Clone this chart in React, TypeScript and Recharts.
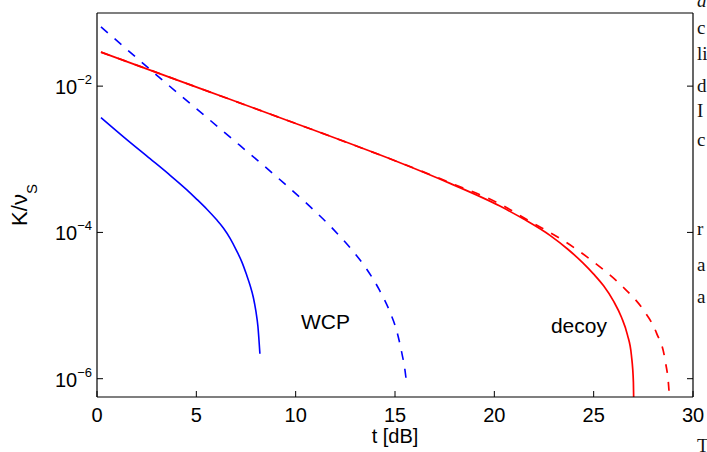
import React from 'react';
import { LineChart, Line, XAxis, YAxis, ReferenceDot, Customized } from 'recharts';

// ---------- data (t in dB, K/nu_S) ----------
const xTicks = [0, 5, 10, 15, 20, 25, 30];
const yTicks = [1e-6, 1e-4, 1e-2];
const xDomain = [0, 30];
const yDomain = [5.62e-7, 1e-1];

// WCP, solid blue
const wcpSolid = [
  { t: 0.2, k: 3.72e-3 },
  { t: 1.5, k: 1.86e-3 },
  { t: 2.67, k: 1.02e-3 },
  { t: 3.6, k: 6.31e-4 },
  { t: 4.51, k: 3.85e-4 },
  { t: 5.0, k: 2.88e-4 },
  { t: 5.52, k: 2.09e-4 },
  { t: 6.0, k: 1.51e-4 },
  { t: 6.36, k: 1.15e-4 },
  { t: 6.7, k: 8.3e-5 },
  { t: 7.03, k: 5.6e-5 },
  { t: 7.3, k: 3.9e-5 },
  { t: 7.53, k: 2.63e-5 },
  { t: 7.7, k: 1.91e-5 },
  { t: 7.87, k: 1.29e-5 },
  { t: 8.0, k: 8.3e-6 },
  { t: 8.1, k: 5.2e-6 },
  { t: 8.2, k: 2.19e-6 },
];

// WCP, dashed blue
const wcpDashed = [
  { t: 0.2, k: 6.46e-2 },
  { t: 3.09, k: 1.35e-2 },
  { t: 6.36, k: 2.4e-3 },
  { t: 9.38, k: 4.79e-4 },
  { t: 10.7, k: 2.29e-4 },
  { t: 11.9, k: 1.1e-4 },
  { t: 12.8, k: 5.89e-5 },
  { t: 13.57, k: 3.16e-5 },
  { t: 14.2, k: 1.66e-5 },
  { t: 14.75, k: 8.13e-6 },
  { t: 15.1, k: 4.37e-6 },
  { t: 15.33, k: 2.34e-6 },
  { t: 15.5, k: 1.32e-6 },
  { t: 15.6, k: 7.9e-7 },
];

// decoy, solid red
const decoySolid = [
  { t: 0.2, k: 2.92e-2 },
  { t: 5.18, k: 9.33e-3 },
  { t: 10.0, k: 3.09e-3 },
  { t: 12.73, k: 1.64e-3 },
  { t: 15.0, k: 9.55e-4 },
  { t: 17.77, k: 4.68e-4 },
  { t: 20.28, k: 2.29e-4 },
  { t: 21.5, k: 1.51e-4 },
  { t: 22.8, k: 9.12e-5 },
  { t: 23.7, k: 5.89e-5 },
  { t: 24.47, k: 3.8e-5 },
  { t: 25.0, k: 2.69e-5 },
  { t: 25.5, k: 1.86e-5 },
  { t: 26.0, k: 1.15e-5 },
  { t: 26.4, k: 6.92e-6 },
  { t: 26.7, k: 3.98e-6 },
  { t: 26.9, k: 2.09e-6 },
  { t: 27.0, k: 8.9e-7 },
  { t: 27.06, k: 1e-7 },
];

// decoy, dashed red
const decoyDashed = [
  { t: 0.2, k: 2.92e-2 },
  { t: 5.18, k: 9.33e-3 },
  { t: 10.0, k: 3.09e-3 },
  { t: 12.73, k: 1.64e-3 },
  { t: 15.0, k: 9.55e-4 },
  { t: 17.77, k: 4.79e-4 },
  { t: 20.28, k: 2.45e-4 },
  { t: 21.8, k: 1.41e-4 },
  { t: 23.47, k: 7.76e-5 },
  { t: 24.98, k: 3.98e-5 },
  { t: 26.49, k: 1.78e-5 },
  { t: 27.5, k: 8.71e-6 },
  { t: 28.17, k: 4.17e-6 },
  { t: 28.59, k: 1.82e-6 },
  { t: 28.8, k: 6.3e-7 },
  { t: 28.88, k: 1e-7 },
];

const annotations = [
  { label: 'WCP', t: 11.5, k: 6.0e-6 },
  { label: 'decoy', t: 24.26, k: 5.4e-6 },
];

// cut-off letters of the surrounding page text at the right edge
const pageLetters = [
  { s: 'a', y: 7, italic: true },
  { s: 'c', y: 34 },
  { s: 'li', y: 60 },
  { s: 'd', y: 92 },
  { s: 'I', y: 117 },
  { s: 'c', y: 146 },
  { s: 'r', y: 235 },
  { s: 'a', y: 271 },
  { s: 'a', y: 303 },
  { s: 'T', y: 452 },
];

const FONT = '"Liberation Sans", Arial, Helvetica, sans-serif';
const TICK = 6;

const BottomTick = (p: any) => {
  const { x, y, payload } = p;
  return (
    <g>
      <line x1={x} y1={y} x2={x} y2={y - TICK} stroke="#000" strokeWidth={1} />
      <text x={x} y={y + 25} textAnchor="middle" fontSize={20} fontFamily={FONT} fill="#000">
        {payload.value}
      </text>
    </g>
  );
};

const TopTick = (p: any) => {
  const { x, y } = p;
  return <line x1={x} y1={y} x2={x} y2={y + TICK} stroke="#000" strokeWidth={1} />;
};

const LeftTick = (p: any) => {
  const { x, y, payload } = p;
  const exp = Math.round(Math.log10(payload.value));
  return (
    <g>
      <line x1={x} y1={y} x2={x + TICK} y2={y} stroke="#000" strokeWidth={1} />
      <text x={x - 5} y={y + 8} textAnchor="end" fontSize={20} fontFamily={FONT} fill="#000">
        10
        <tspan dy={-10} fontSize={13}>{'\u2212' + Math.abs(exp)}</tspan>
      </text>
    </g>
  );
};

const RightTick = (p: any) => {
  const { x, y } = p;
  return <line x1={x} y1={y} x2={x - TICK} y2={y} stroke="#000" strokeWidth={1} />;
};

const XLabel = (p: any) => {
  const vb = p.viewBox;
  return (
    <text x={vb.x + vb.width / 2} y={vb.y + 46} textAnchor="middle" fontSize={20} fontFamily={FONT} fill="#000">
      t [dB]
    </text>
  );
};

const YLabel = (p: any) => {
  const vb = p.viewBox;
  const cx = 27;
  const cy = vb.y + vb.height / 2;
  return (
    <text
      x={cx}
      y={cy}
      transform={`rotate(-90 ${cx} ${cy})`}
      textAnchor="middle"
      fontSize={22}
      fontFamily={FONT}
      fill="#000"
    >
      K/{'\u03bd'}
      <tspan dy={10} fontSize={15}>S</tspan>
    </text>
  );
};

const PageText = () => (
  <g>
    {pageLetters.map((l, i) => (
      <text
        key={i}
        x={697}
        y={l.y}
        fontSize={19}
        fontFamily='"Liberation Serif", "DejaVu Serif", serif'
        fontStyle={l.italic ? 'italic' : 'normal'}
        fill="#111"
      >
        {l.s}
      </text>
    ))}
  </g>
);

export default function App() {
  return (
    <div style={{ width: 707, height: 452, position: 'fixed', left: 0, top: 0, background: '#fff' }}>
      <LineChart width={707} height={452} margin={{ top: 12, right: 13, bottom: 25, left: 0 }}>
        <XAxis
          dataKey="t"
          type="number"
          domain={xDomain}
          ticks={xTicks}
          interval={0}
          allowDataOverflow
          height={30}
          tickSize={0}
          tickMargin={0}
          tickLine={false}
          tick={<BottomTick />}
          axisLine={{ stroke: '#000', strokeWidth: 1.2 }}
          label={<XLabel />}
        />
        <XAxis
          xAxisId="top"
          orientation="top"
          type="number"
          domain={xDomain}
          ticks={xTicks}
          interval={0}
          allowDataOverflow
          height={1}
          tickSize={0}
          tickMargin={0}
          tickLine={false}
          tick={<TopTick />}
          axisLine={{ stroke: '#000', strokeWidth: 1.2 }}
        />
        <YAxis
          dataKey="k"
          type="number"
          scale="log"
          domain={yDomain}
          ticks={yTicks}
          interval={0}
          allowDataOverflow
          width={97}
          tickSize={0}
          tickMargin={0}
          tickLine={false}
          tick={<LeftTick />}
          axisLine={{ stroke: '#000', strokeWidth: 1.2 }}
          label={<YLabel />}
        />
        <YAxis
          yAxisId="right"
          orientation="right"
          type="number"
          scale="log"
          domain={yDomain}
          ticks={yTicks}
          interval={0}
          allowDataOverflow
          width={1}
          tickSize={0}
          tickMargin={0}
          tickLine={false}
          tick={<RightTick />}
          axisLine={{ stroke: '#000', strokeWidth: 1.2 }}
        />
        <Line data={wcpSolid} dataKey="k" type="monotone" stroke="#0000ff" strokeWidth={1.6} dot={false} isAnimationActive={false} />
        <Line data={wcpDashed} dataKey="k" type="monotone" stroke="#0000ff" strokeWidth={1.6} strokeDasharray="9 9" dot={false} isAnimationActive={false} />
        <Line data={decoyDashed} dataKey="k" type="monotone" stroke="#ff0000" strokeWidth={1.7} strokeDasharray="9 9" dot={false} isAnimationActive={false} />
        <Line data={decoySolid} dataKey="k" type="monotone" stroke="#ff0000" strokeWidth={1.7} dot={false} isAnimationActive={false} />
        {annotations.map((a) => (
          <ReferenceDot
            key={a.label}
            x={a.t}
            y={a.k}
            r={1}
            fill="none"
            stroke="none"
            label={{ value: a.label, position: 'center', fill: '#000', fontSize: 21, fontFamily: FONT }}
          />
        ))}
        <Customized component={PageText} />
      </LineChart>
    </div>
  );
}
